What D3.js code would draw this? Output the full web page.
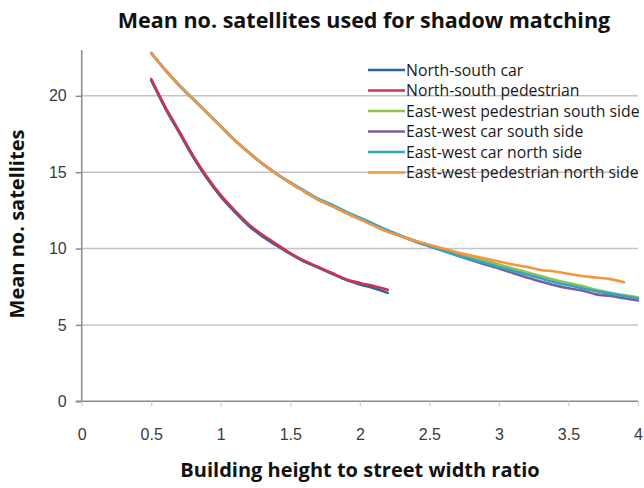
<!DOCTYPE html>
<html>
<head>
<meta charset="utf-8">
<script src="https://cdn.jsdelivr.net/npm/d3@7"></script>
<style>
  html, body { margin: 0; padding: 0; background: #fff; }
  svg { display: block; font-family: "Open Sans", Lato, sans-serif; }
</style>
</head>
<body>
<svg id="chart" width="644" height="488"></svg>
<script>
// ---- Data ----
const ratios = [0.5,0.6,0.7,0.8,0.9,1.0,1.1,1.2,1.3,1.4,1.5,1.6,1.7,1.8,1.9,2.0,2.1,2.2,
                2.3,2.4,2.5,2.6,2.7,2.8,2.9,3.0,3.1,3.2,3.3,3.4,3.5,3.6,3.7,3.8,3.9,4.0];

const nsCar        = [21.0,19.2,17.6,16.0,14.6,13.4,12.4,11.5,10.8,10.2,9.65,9.15,8.75,8.35,7.95,7.65,7.4,7.1];
const nsPedestrian = [21.1,19.3,17.7,16.1,14.7,13.5,12.5,11.6,10.9,10.3,9.7,9.2,8.8,8.4,8.0,7.75,7.55,7.3];
const ewPedSouth   = [22.8,21.7,20.7,19.8,18.9,18.0,17.1,16.3,15.55,14.9,14.3,13.75,13.2,12.8,12.35,11.95,11.55,11.15,
                      10.8,10.5,10.2,9.95,9.7,9.45,9.2,8.95,8.7,8.45,8.2,7.95,7.75,7.55,7.3,7.1,6.95,6.8];
const ewCarSouth   = [22.8,21.7,20.7,19.8,18.9,18.0,17.1,16.3,15.55,14.9,14.3,13.75,13.2,12.8,12.35,11.95,11.55,11.15,
                      10.8,10.45,10.15,9.85,9.55,9.25,8.95,8.7,8.4,8.1,7.85,7.6,7.4,7.25,7.0,6.9,6.75,6.6];
const ewCarNorth   = [22.8,21.7,20.7,19.8,18.9,18.0,17.1,16.3,15.55,14.9,14.33,13.8,13.27,12.87,12.42,12.02,11.62,11.2,
                      10.83,10.5,10.15,9.85,9.55,9.3,9.05,8.8,8.55,8.3,8.05,7.8,7.6,7.4,7.2,7.05,6.9,6.72];
const ewPedNorth   = [22.8,21.7,20.7,19.8,18.9,18.0,17.1,16.3,15.55,14.9,14.3,13.75,13.2,12.78,12.33,11.92,11.5,11.1,
                      10.8,10.5,10.25,10.0,9.75,9.55,9.35,9.15,8.95,8.8,8.6,8.5,8.35,8.2,8.1,8.0,7.8];

const seriesNames  = ["North-south car","North-south pedestrian","East-west pedestrian south side",
                      "East-west car south side","East-west car north side","East-west pedestrian north side"];
const seriesValues = [nsCar, nsPedestrian, ewPedSouth, ewCarSouth, ewCarNorth, ewPedNorth];
const seriesColors = ["#2D62A6","#CC3350","#8DC44E","#7D5CA3","#2FA7C4","#F3963F"];

const xTicks = [0,0.5,1,1.5,2,2.5,3,3.5,4];
const yTicks = [0,5,10,15,20];

const title  = "Mean no. satellites used for shadow matching";
const xTitle = "Building height to street width ratio";
const yTitle = "Mean no. satellites";

// ---- Layout ----
const svg = d3.select("#chart");
const plot = { left: 81.7, right: 638, top: 50, bottom: 401.3 };

const x = d3.scaleLinear().domain([0, 4]).range([plot.left, plot.right]);
const y = d3.scaleLinear().domain([0, 23]).range([plot.bottom, plot.top]);

// gridlines
svg.append("g")
  .selectAll("line")
  .data(yTicks.filter(d => d > 0))
  .join("line")
  .attr("x1", plot.left).attr("x2", plot.right)
  .attr("y1", d => y(d)).attr("y2", d => y(d))
  .attr("stroke", "#c4c4c4").attr("stroke-width", 1.5);

// y axis
const yAxis = svg.append("g")
  .attr("transform", `translate(${plot.left},0)`)
  .call(d3.axisLeft(y).tickValues(yTicks).tickSize(6).tickPadding(9).tickFormat(d3.format("d")));
yAxis.select(".domain").attr("stroke", "#8a8a8a").attr("stroke-width", 1.5).attr("d", `M-6,${plot.bottom}H0V${plot.top}`);
yAxis.selectAll(".tick line").attr("stroke", "#8a8a8a").attr("stroke-width", 1.5);
yAxis.selectAll(".tick text").attr("fill", "#3a3a3a").style("font-size", "16px");

// x axis
const xAxis = svg.append("g")
  .attr("transform", `translate(0,${plot.bottom})`)
  .call(d3.axisBottom(x).tickValues(xTicks).tickSize(5).tickPadding(22).tickFormat(d => d));
xAxis.select(".domain").attr("stroke", "#8a8a8a").attr("stroke-width", 1.5).attr("d", `M${plot.left},0H${plot.right}`);
xAxis.selectAll(".tick line").attr("stroke", "#cfcfcf").attr("stroke-width", 1.2);
xAxis.selectAll(".tick text").attr("fill", "#3a3a3a").style("font-size", "16px");

// lines
const line = d3.line()
  .x((d, i) => x(ratios[i]))
  .y(d => y(d))
  .curve(d3.curveMonotoneX);

svg.append("g")
  .selectAll("path")
  .data(seriesValues.map((v, i) => ({ v, c: seriesColors[i] })))
  .join("path")
  .attr("d", d => line(d.v))
  .attr("fill", "none")
  .attr("stroke", d => d.c)
  .attr("stroke-width", 2.6)
  .attr("stroke-linecap", "round")
  .attr("stroke-linejoin", "round");

// legend
const legend = svg.append("g").attr("transform", "translate(368,70)");
const rowH = 20.5;
seriesNames.forEach((name, i) => {
  const g = legend.append("g").attr("transform", `translate(0,${i * rowH})`);
  g.append("line").attr("x1", 0).attr("x2", 37).attr("y1", 0).attr("y2", 0)
    .attr("stroke", seriesColors[i]).attr("stroke-width", 2.6);
  g.append("text").attr("x", 38).attr("y", 0).attr("dy", "0.35em")
    .attr("fill", "#1a1a1a").style("font-size", "15.8px").text(name);
});

// titles
svg.append("text")
  .attr("x", 364).attr("y", 28)
  .attr("text-anchor", "middle")
  .attr("fill", "#111")
  .style("font-size", "21.5px").style("font-weight", "bold")
  .text(title);

svg.append("text")
  .attr("x", 360).attr("y", 477)
  .attr("text-anchor", "middle")
  .attr("fill", "#111")
  .style("font-size", "20px").style("font-weight", "bold")
  .text(xTitle);

svg.append("text")
  .attr("transform", "translate(24,224) rotate(-90)")
  .attr("text-anchor", "middle")
  .attr("fill", "#111")
  .style("font-size", "20px").style("font-weight", "bold")
  .text(yTitle);
</script>
</body>
</html>
